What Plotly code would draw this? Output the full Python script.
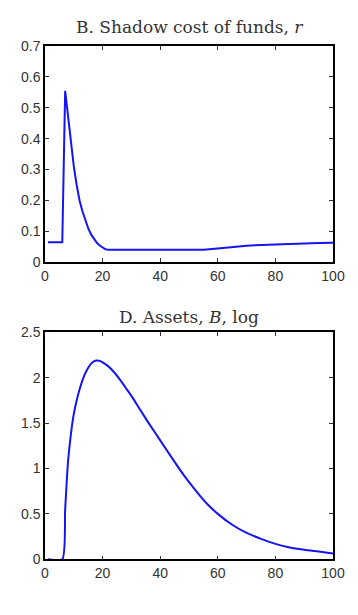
import plotly.graph_objects as go

# Panel B: shadow cost of funds, r
t_r = [1, 6, 7, 8, 9, 10, 11, 12, 13, 14, 15, 16, 17, 18, 19, 20, 21, 22,
       55, 60, 65, 70, 75, 80, 85, 90, 95, 100]
r_vals = [0.065, 0.065, 0.555, 0.47, 0.38, 0.31, 0.25, 0.20, 0.165, 0.135, 0.11,
          0.09, 0.075, 0.063, 0.054, 0.047, 0.042, 0.04,
          0.04, 0.044, 0.049, 0.053, 0.056, 0.058, 0.060, 0.061, 0.062, 0.063]

# Panel D: assets, B, log
t_b = [1, 6, 7, 8, 9, 10, 11, 12, 13, 14, 15, 16, 17, 18, 19, 20, 22, 24, 26, 28,
       30, 33, 36, 40, 44, 48, 52, 56, 60, 65, 70, 75, 80, 85, 90, 95, 100]
b_vals = [0, 0, 0.55, 1.08, 1.38, 1.60, 1.75, 1.87, 1.97, 2.05, 2.11, 2.155, 2.18,
          2.19, 2.186, 2.17, 2.125, 2.06, 1.98, 1.89, 1.80, 1.65, 1.50, 1.31, 1.12,
          0.935, 0.77, 0.62, 0.50, 0.38, 0.29, 0.225, 0.17, 0.13, 0.105, 0.085, 0.064]

x_ticks = [0, 20, 40, 60, 80, 100]
r_ticks = [0, 0.1, 0.2, 0.3, 0.4, 0.5, 0.6, 0.7]
b_ticks = [0, 0.5, 1, 1.5, 2, 2.5]

titles = ["B. Shadow cost of funds, <i>r</i>", "D. Assets, <i>B</i>, log"]

W, H = 358, 615
fig = go.Figure()
fig.add_trace(go.Scatter(x=t_r, y=r_vals, mode="lines", xaxis="x", yaxis="y",
                         line=dict(color="#1414f5", width=2), showlegend=False))
fig.add_trace(go.Scatter(x=t_b, y=b_vals, mode="lines", xaxis="x2", yaxis="y2",
                         line=dict(color="#1414f5", width=2, shape="spline", smoothing=0.6),
                         showlegend=False))

axis_common = dict(showline=True, linecolor="black", linewidth=1.5, mirror="ticks",
                   ticks="inside", ticklen=4, tickwidth=1, tickcolor="#333",
                   showgrid=False, zeroline=False,
                   tickfont=dict(family="Liberation Sans", size=14, color="#333"))

top_dom = [1 - 261 / H, 1 - 39 / H]
bot_dom = [1 - 566 / H, 1 - 333 / H]

fig.update_layout(
    width=W, height=H,
    margin=dict(l=45, r=25, t=0, b=0),
    paper_bgcolor="white", plot_bgcolor="white",
    xaxis=dict(domain=[0, 1], anchor="y", range=[0, 100], tickvals=x_ticks, **axis_common),
    yaxis=dict(domain=top_dom, anchor="x", range=[0, 0.7], tickvals=r_ticks, **axis_common),
    xaxis2=dict(domain=[0, 1], anchor="y2", range=[0, 100], tickvals=x_ticks, **axis_common),
    yaxis2=dict(domain=bot_dom, anchor="x2", range=[0, 2.5], tickvals=b_ticks, **axis_common),
    annotations=[
        dict(text=titles[0], x=0.5, y=1 - 20 / H, xref="paper", yref="paper",
             showarrow=False, xanchor="center", yanchor="middle",
             font=dict(family="DejaVu Serif", size=17, color="#333")),
        dict(text=titles[1], x=0.5, y=1 - 317 / H, xref="paper", yref="paper",
             showarrow=False, xanchor="center", yanchor="middle",
             font=dict(family="DejaVu Serif", size=17, color="#333")),
    ],
)

fig.write_html("out.html")
